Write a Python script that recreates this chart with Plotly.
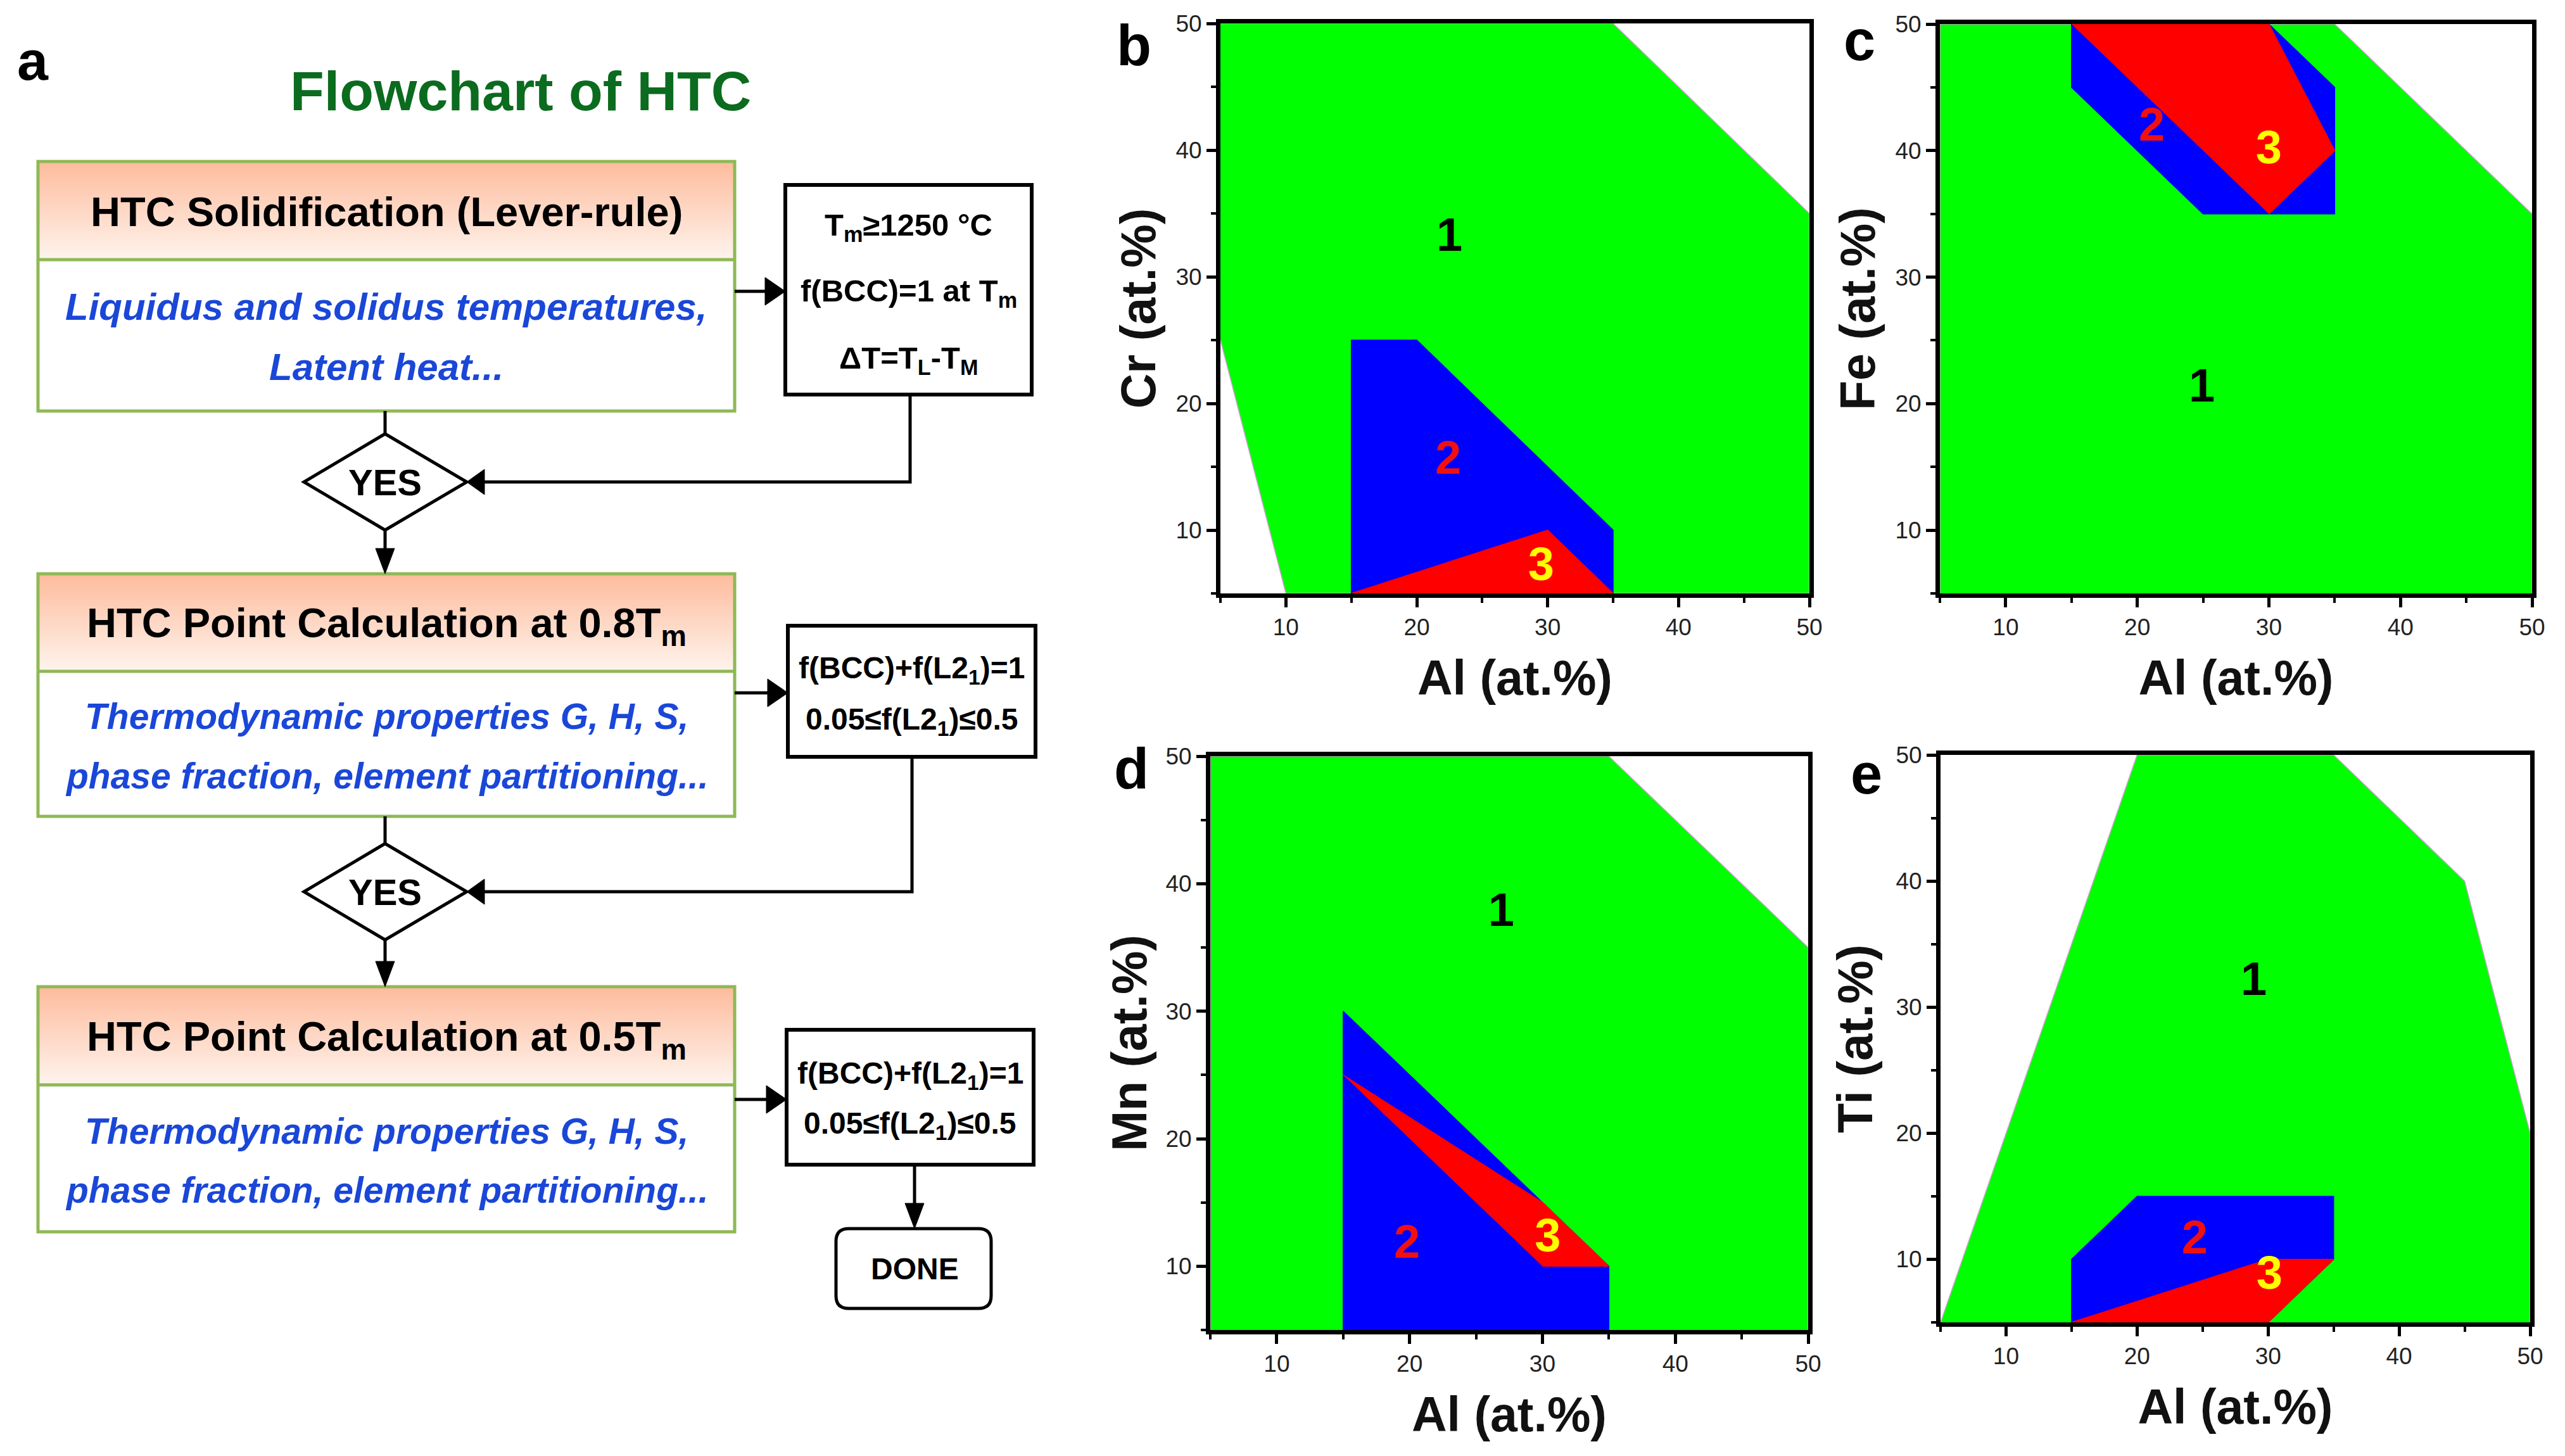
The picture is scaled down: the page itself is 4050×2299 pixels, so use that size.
import plotly.graph_objects as go

W = 4050
H = 2299
# the page body adds 8px around the figure
BODY = 8

# panel data, polygons (Al, other element)
b_green_x = [5, 35, 50, 50, 10, 5]
b_green_y = [50, 50, 35, 5, 5, 25]
b_blue_x = [15, 15, 20, 35, 35]
b_blue_y = [5, 25, 25, 10, 5]
b_red_x = [15, 30, 35]
b_red_y = [5, 10, 5]
b_num_x = [22.5, 22.4, 29.5]
b_num_y = [33, 15.4, 7]

c_green_x = [5, 5, 35, 50, 50]
c_green_y = [5, 50, 50, 35, 5]
c_blue_x = [15, 15, 25, 35, 35, 30]
c_blue_y = [50, 45, 35, 35, 45, 50]
c_red_x = [15, 30, 35, 30]
c_red_y = [50, 50, 40, 35]
c_num_x = [24.9, 21.1, 30]
c_num_y = [21.1, 41.7, 39.9]

d_green_x = [5, 5, 35, 50, 50]
d_green_y = [5, 50, 50, 35, 5]
d_blue_x = [15, 15, 35, 35]
d_blue_y = [5, 30, 10, 5]
d_red_x = [15, 30, 35, 30]
d_red_y = [25, 15, 10, 10]
d_num_x = [26.9, 19.8, 30.4]
d_num_y = [37.6, 11.6, 12.1]

e_green_x = [5, 20, 35, 45, 50, 50]
e_green_y = [5, 50, 50, 40, 20, 5]
e_blue_x = [15, 15, 20, 35, 35, 30]
e_blue_y = [5, 10, 15, 15, 10, 5]
e_red_x = [15, 30, 35, 30]
e_red_y = [5, 10, 10, 5]
e_num_x = [28.9, 24.4, 30.1]
e_num_y = [31.9, 11.4, 8.6]

num_labels = ['1', '2', '3']
major_ticks = [10, 20, 30, 40, 50]
minor_ticks = [5, 15, 25, 35, 45]

FONT = 'Liberation Sans'
NUM_COLORS = ['#000000', '#f01010', '#ffff00']

# pixel box of each panel: left, right, top, bottom, y title, y title standoff
panels = [
    ('', 1927, 2857, 37, 937, 'Cr (at.%)', 9,
     (b_green_x, b_green_y), (b_blue_x, b_blue_y), (b_red_x, b_red_y), (b_num_x, b_num_y)),
    ('2', 3063, 3998, 38, 937, 'Fe (at.%)', 9,
     (c_green_x, c_green_y), (c_blue_x, c_blue_y), (c_red_x, c_red_y), (c_num_x, c_num_y)),
    ('3', 1911, 2855, 1194, 2100, 'Mn (at.%)', 7,
     (d_green_x, d_green_y), (d_blue_x, d_blue_y), (d_red_x, d_red_y), (d_num_x, d_num_y)),
    ('4', 3064, 3995, 1192, 2088, 'Ti (at.%)', 14,
     (e_green_x, e_green_y), (e_blue_x, e_blue_y), (e_red_x, e_red_y), (e_num_x, e_num_y)),
]


def px(x):
    return (x - BODY) / W


def py(y):
    return 1 - (y - BODY) / H


fig = go.Figure()
shapes = []
annotations = []


def add_text(text, x, y, size, color='#000000', bold=True, italic=False):
    annotations.append(dict(
        text=text, x=px(x), y=py(y), xref='paper', yref='paper', showarrow=False,
        xanchor='center', yanchor='middle',
        font=dict(family=FONT, size=size, color=color,
                  weight='bold' if bold else 'normal',
                  style='italic' if italic else 'normal')))


def add_rect(x0, y0, x1, y1, fill='rgba(0,0,0,0)', color=None, width=0):
    shapes.append(dict(type='rect', xref='paper', yref='paper',
                       x0=px(x0), x1=px(x1), y0=py(y0), y1=py(y1),
                       fillcolor=fill, line=dict(color=color, width=width)))


def add_path(points, fill='rgba(0,0,0,0)', color='#000000', width=5, close=True):
    path = 'M ' + ' L '.join(f'{px(a):.5f} {py(b):.5f}' for a, b in points)
    if close:
        path += ' Z'
    shapes.append(dict(type='path', xref='paper', yref='paper', path=path,
                       fillcolor=fill, line=dict(color=color, width=width)))


def head_right(x, y):
    add_path([(x - 32, y - 22), (x, y), (x - 32, y + 22)], fill='#000000', width=1)


def head_left(x, y):
    add_path([(x + 28, y - 20), (x, y), (x + 28, y + 20)], fill='#000000', width=1)


def head_down(x, y):
    add_path([(x - 15, y - 40), (x, y), (x + 15, y - 40)], fill='#000000', width=1)


# header gradient is faked with thin stacked strips
def add_main_box(top, split, bottom, title, title_y, line1, line2, line1_y, line2_y, blue_size):
    steps = 30
    for i in range(steps):
        t = i / (steps - 1)
        r = 254
        g = round(188 + (243 - 188) * t)
        b = round(158 + (236 - 158) * t)
        y0 = top + (split - top) * i / steps
        y1 = top + (split - top) * (i + 1) / steps + 1
        add_rect(60, y0, 1160, y1, fill=f'rgb({r},{g},{b})')
    add_rect(60, top, 1160, bottom, color='#8fb855', width=5)
    add_path([(60, split), (1160, split)], color='#8fb855', width=5, close=False)
    add_text(title, 610, title_y, 65)
    add_text(line1, 610, line1_y, blue_size, color='#1a47d8', italic=True)
    add_text(line2, 610, line2_y, blue_size, color='#1a47d8', italic=True)


def add_side_box(x0, y0, x1, y1, lines, size):
    add_rect(x0, y0, x1, y1, fill='#ffffff', color='#000000', width=6)
    for text, y in lines:
        add_text(text, (x0 + x1) / 2, y, size)


def add_diamond(cy, half):
    add_path([(608, cy - half), (737, cy), (608, cy + half), (480, cy)], fill='#ffffff', width=5)
    add_text('YES', 608, cy, 58)


# flowchart, panel a
add_main_box(255, 410, 649, 'HTC Solidification (Lever-rule)', 334,
             'Liquidus and solidus temperatures,', 'Latent heat...', 484, 579, 60)
add_main_box(906, 1060, 1289, 'HTC Point Calculation at 0.8T<sub>m</sub>', 988,
             'Thermodynamic properties G, H, S,', 'phase fraction, element partitioning...', 1131, 1225, 57)
add_main_box(1558, 1713, 1945, 'HTC Point Calculation at 0.5T<sub>m</sub>', 1641,
             'Thermodynamic properties G, H, S,', 'phase fraction, element partitioning...', 1786, 1879, 57)

add_side_box(1240, 292, 1629, 623, [('T<sub>m</sub>≥1250 °C', 359), ('f(BCC)=1 at T<sub>m</sub>', 462),
                                    ('ΔT=T<sub>L</sub>-T<sub>M</sub>', 568)], 49)
add_side_box(1244, 988, 1635, 1195, [('f(BCC)+f(L2<sub>1</sub>)=1', 1058), ('0.05≤f(L2<sub>1</sub>)≤0.5', 1139)], 48)
add_side_box(1242, 1626, 1632, 1839, [('f(BCC)+f(L2<sub>1</sub>)=1', 1698), ('0.05≤f(L2<sub>1</sub>)≤0.5', 1777)], 48)

# connectors
add_path([(1160, 460), (1215, 460)], close=False)
head_right(1240, 460)
add_path([(1160, 1094), (1215, 1094)], close=False)
head_right(1244, 1094)
add_path([(1160, 1736), (1215, 1736)], close=False)
head_right(1242, 1736)
add_path([(1437, 623), (1437, 761), (760, 761)], close=False)
add_path([(1440, 1195), (1440, 1408), (760, 1408)], close=False)
add_path([(608, 649), (608, 690)], close=False)
add_path([(608, 1289), (608, 1340)], close=False)
add_path([(608, 837), (608, 875)], close=False)
add_path([(608, 1485), (608, 1525)], close=False)
add_path([(1444, 1839), (1444, 1910)], close=False)

add_diamond(761, 76)
add_diamond(1408, 76)
head_left(737, 761)
head_left(737, 1408)
head_down(608, 906)
head_down(608, 1558)
head_down(1444, 1940)

# DONE box
shapes.append(dict(type='path', xref='paper', yref='paper', fillcolor='#ffffff',
                   line=dict(color='#000000', width=5),
                   path=f'M {px(1340):.5f} {py(1940):.5f} L {px(1545):.5f} {py(1940):.5f} '
                        f'Q {px(1565):.5f} {py(1940):.5f} {px(1565):.5f} {py(1960):.5f} '
                        f'L {px(1565):.5f} {py(2046):.5f} Q {px(1565):.5f} {py(2066):.5f} {px(1545):.5f} {py(2066):.5f} '
                        f'L {px(1340):.5f} {py(2066):.5f} Q {px(1320):.5f} {py(2066):.5f} {px(1320):.5f} {py(2046):.5f} '
                        f'L {px(1320):.5f} {py(1960):.5f} Q {px(1320):.5f} {py(1940):.5f} {px(1340):.5f} {py(1940):.5f} Z'))
add_text('DONE', 1444, 2004, 48)

add_text('Flowchart of HTC', 822, 143, 88, color='#0b6b1e')

# panel letters
add_text('a', 52, 95, 88)
add_text('b', 1790, 72, 90)
add_text('c', 2936, 64, 90)
add_text('d', 1786, 1214, 90)
add_text('e', 2947, 1222, 90)


def add_panel(axis, left, right, top, bottom, y_title, y_standoff, green, blue, red, nums):
    xname = 'x' + axis
    yname = 'y' + axis
    for (xs, ys), color, edge in [(green, '#00ff00', '#d9a0d9'), (blue, '#0000ff', '#0000ff'), (red, '#ff0000', '#ff0000')]:
        fig.add_trace(go.Scatter(x=xs, y=ys, xaxis=xname, yaxis=yname, mode='lines', fill='toself',
                                 fillcolor=color, line=dict(color=edge, width=1.5), hoverinfo='skip'))
    fig.add_trace(go.Scatter(x=nums[0], y=nums[1], xaxis=xname, yaxis=yname, mode='text', text=num_labels,
                             textposition='middle center',
                             textfont=dict(family=FONT, size=74, color=NUM_COLORS, weight='bold')))
    common = dict(range=[5, 50], tickmode='array', tickvals=major_ticks, ticks='outside', ticklen=15,
                  tickwidth=5, tickcolor='#000000', showline=True, linecolor='#000000', linewidth=7,
                  mirror=True, showgrid=False, zeroline=False,
                  tickfont=dict(family=FONT, size=37, color='#222222'),
                  minor=dict(tickmode='array', tickvals=minor_ticks, ticks='outside', ticklen=8,
                             tickwidth=4, tickcolor='#000000', showgrid=False))
    title_font = dict(family=FONT, size=77, color='#111111', weight='bold')
    fig.update_layout({
        'xaxis' + axis: dict(common, domain=[px(left), px(right)], anchor=yname,
                             title=dict(text='Al (at.%)', font=title_font, standoff=35)),
        'yaxis' + axis: dict(common, domain=[py(bottom), py(top)], anchor=xname,
                             title=dict(text=y_title, font=title_font, standoff=y_standoff)),
    })


for axis, left, right, top, bottom, y_title, y_standoff, green, blue, red, nums in panels:
    add_panel(axis, left, right, top, bottom, y_title, y_standoff, green, blue, red, nums)

fig.update_layout(width=W, height=H, margin=dict(l=0, r=0, t=0, b=0, autoexpand=False), showlegend=False,
                  plot_bgcolor='#ffffff', paper_bgcolor='#ffffff', shapes=shapes, annotations=annotations)

fig.write_html("out.html")
